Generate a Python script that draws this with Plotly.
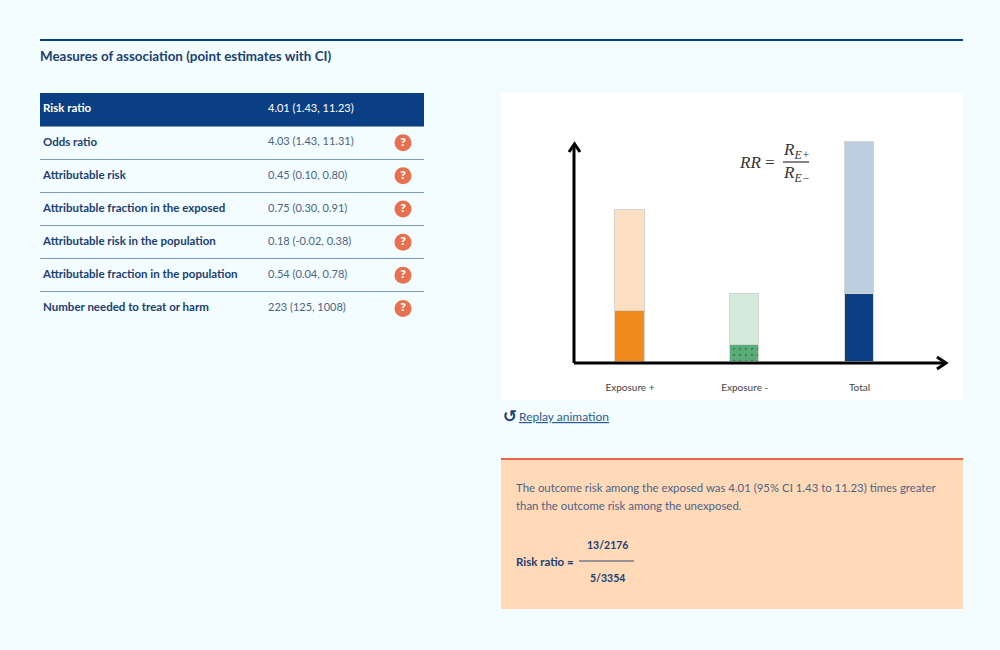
import plotly.graph_objects as go

# table values
measures = ['Risk ratio', 'Odds ratio', 'Attributable risk', 'Attributable fraction in the exposed',
            'Attributable risk in the population', 'Attributable fraction in the population',
            'Number needed to treat or harm']
estimates = ['4.01 (1.43, 11.23)', '4.03 (1.43, 11.31)', '0.45 (0.10, 0.80)', '0.75 (0.30, 0.91)',
             '0.18 (-0.02, 0.38)', '0.54 (0.04, 0.78)', '223 (125, 1008)']
help_rows = measures[1:]

# bar heights (no scale is shown)
bar_categories = ['Exposure +', 'Exposure -', 'Total']
outcome_part = [51, 17, 68]
remaining_part = [101, 51, 152]

FONT = 'Lato'
NAVY = '#0b3f84'
TITLE_COL = '#1b3f73'
TEXT_COL = '#2f4b78'
VALUE_COL = '#4d6485'
W, H = 1000, 650


def fx(px):
    return px / W


def fy(px):
    return 1 - px / H


fig = go.Figure()

# table, drawn on its own axes
fig.add_trace(go.Bar(y=[measures[0]], x=[384], orientation='h', width=1, marker=dict(color=NAVY, line_width=0),
                     xaxis='x2', yaxis='y2', showlegend=False, hoverinfo='skip'))
fig.add_trace(go.Scatter(x=[3] * len(measures), y=measures, text=measures, mode='text', textposition='middle right',
                         textfont=dict(family=FONT, size=11.5, weight=700,
                                       color=['#ffffff'] + [TITLE_COL] * 6),
                         xaxis='x2', yaxis='y2', showlegend=False, hoverinfo='skip'))
fig.add_trace(go.Scatter(x=[228] * len(measures), y=measures, text=estimates, mode='text', textposition='middle right',
                         textfont=dict(family=FONT, size=11, color=['#ffffff'] + [VALUE_COL] * 6),
                         xaxis='x2', yaxis='y2', showlegend=False, hoverinfo='skip'))
fig.add_trace(go.Scatter(x=[363] * len(help_rows), y=help_rows, text=['?'] * len(help_rows), mode='markers+text',
                         textposition='middle center', marker=dict(size=17, color='#e8704f'),
                         textfont=dict(family=FONT, size=12, weight=800, color='#ffffff'),
                         xaxis='x2', yaxis='y2', showlegend=False, hoverinfo='skip'))

# stacked bars
fig.add_trace(go.Bar(x=bar_categories, y=outcome_part, width=0.255, showlegend=False, hoverinfo='skip',
                     marker=dict(color=['#f08a1d', '#57ae78', NAVY], line=dict(color='#e3d9cc', width=1),
                                 pattern=dict(shape=['', '.', ''], fgcolor=NAVY, size=6, solidity=0.12))))
fig.add_trace(go.Bar(x=bar_categories, y=remaining_part, width=0.255, showlegend=False, hoverinfo='skip',
                     marker=dict(color=['#fde0c4', '#d3e9da', '#bccde0'], line=dict(color='#d5d5d0', width=1))))

shapes = [
    dict(type='rect', xref='paper', yref='paper', x0=fx(501), x1=fx(963), y0=fy(400), y1=fy(93),
         fillcolor='#ffffff', line_width=0, layer='below'),
    dict(type='rect', xref='paper', yref='paper', x0=fx(501), x1=fx(963), y0=fy(609), y1=fy(459),
         fillcolor='#ffd9b8', line_width=0, layer='below'),
    dict(type='line', xref='paper', yref='paper', x0=fx(501), x1=fx(963), y0=fy(459), y1=fy(459),
         line=dict(color='#e8694a', width=2)),
    dict(type='line', xref='paper', yref='paper', x0=fx(40), x1=fx(963), y0=fy(40), y1=fy(40),
         line=dict(color=NAVY, width=2)),
    # fraction bars
    dict(type='line', xref='paper', yref='paper', x0=fx(579), x1=fx(634), y0=fy(561), y1=fy(561),
         line=dict(color=TEXT_COL, width=1)),
    dict(type='line', xref='paper', yref='paper', x0=fx(783), x1=fx(809), y0=fy(162), y1=fy(162),
         line=dict(color='#333333', width=1.2)),
]
# chart arrows
for path in ['M %f %f L %f %f' % (fx(574), fy(363), fx(574), fy(145)),
             'M %f %f L %f %f' % (fx(574), fy(363), fx(945), fy(363)),
             'M %f %f L %f %f L %f %f' % (fx(569), fy(152), fx(574.5), fy(144), fx(580), fy(152)),
             'M %f %f L %f %f L %f %f' % (fx(937), fy(357), fx(946), fy(363), fx(937), fy(369))]:
    shapes.append(dict(type='path', xref='paper', yref='paper', path=path, line=dict(color='#000000', width=3)))


def note(px, py, text, size=12, color=TEXT_COL, anchor='left', weight=400, family=FONT):
    return dict(xref='paper', yref='paper', x=fx(px), y=fy(py), text=text, showarrow=False, xanchor=anchor,
                yanchor='middle', align=anchor, font=dict(family=family, size=size, color=color, weight=weight))


annotations = [
    note(38, 56, 'Measures of association (point estimates with CI)', size=13.4, color=TITLE_COL, weight=700),
    note(510, 416, '↺', size=17, color=TITLE_COL, anchor='center', family='DejaVu Sans', weight=700),
    note(517, 416, '<u>Replay animation</u>', size=12, color='#2c5a94'),
    note(514, 487, 'The outcome risk among the exposed was 4.01 (95% CI 1.43 to 11.23) times greater', size=11.4, color=VALUE_COL),
    note(514, 505, 'than the outcome risk among the unexposed.', size=11.4, color=VALUE_COL),
    note(514, 561, 'Risk ratio =', size=11.5, color=TITLE_COL, weight=700),
    note(607, 545, '13/2176', size=10.5, color=TITLE_COL, anchor='center', weight=700),
    note(607, 578, '5/3354', size=10.5, color=TITLE_COL, anchor='center', weight=700),
    note(737, 162, '<i>RR</i> =', size=17, color='#333333', family='Liberation Serif'),
    note(781, 151, '<i>R<sub>E+</sub></i>', size=17, color='#333333', family='Liberation Serif'),
    note(781, 174, '<i>R<sub>E−</sub></i>', size=17, color='#333333', family='Liberation Serif'),
]

fig.update_layout(
    width=W, height=H, margin=dict(l=0, r=0, t=0, b=0), autosize=False,
    paper_bgcolor='#f3fcff', plot_bgcolor='rgba(0,0,0,0)', barmode='stack', bargap=0,
    shapes=shapes, annotations=annotations,
    xaxis=dict(domain=[fx(575), fx(949)], range=[-0.479, 2.78], type='category',
               categoryorder='array', categoryarray=bar_categories, showgrid=False, zeroline=False,
               ticks='outside', ticklen=16, tickcolor='rgba(0,0,0,0)', showline=False,
               tickfont=dict(family=FONT, size=10, color='#444444')),
    yaxis=dict(domain=[fy(362), fy(94)], range=[0, 268], showgrid=False, zeroline=False, showticklabels=False),
    xaxis2=dict(domain=[fx(40), fx(424)], range=[0, 384], anchor='y2', visible=False),
    yaxis2=dict(domain=[fy(325), fy(93)], anchor='x2', type='category', categoryorder='array', categoryarray=measures,
                range=[6.5, -0.5], tickson='boundaries', showgrid=True, gridcolor='#7f9bb8', gridwidth=1,
                showticklabels=False, ticks='', zeroline=False, showline=False),
)

# the page's default margin would push the figure 8px off
fig.write_html("out.html", config=dict(displayModeBar=False), post_script="document.body.style.margin='0';")
